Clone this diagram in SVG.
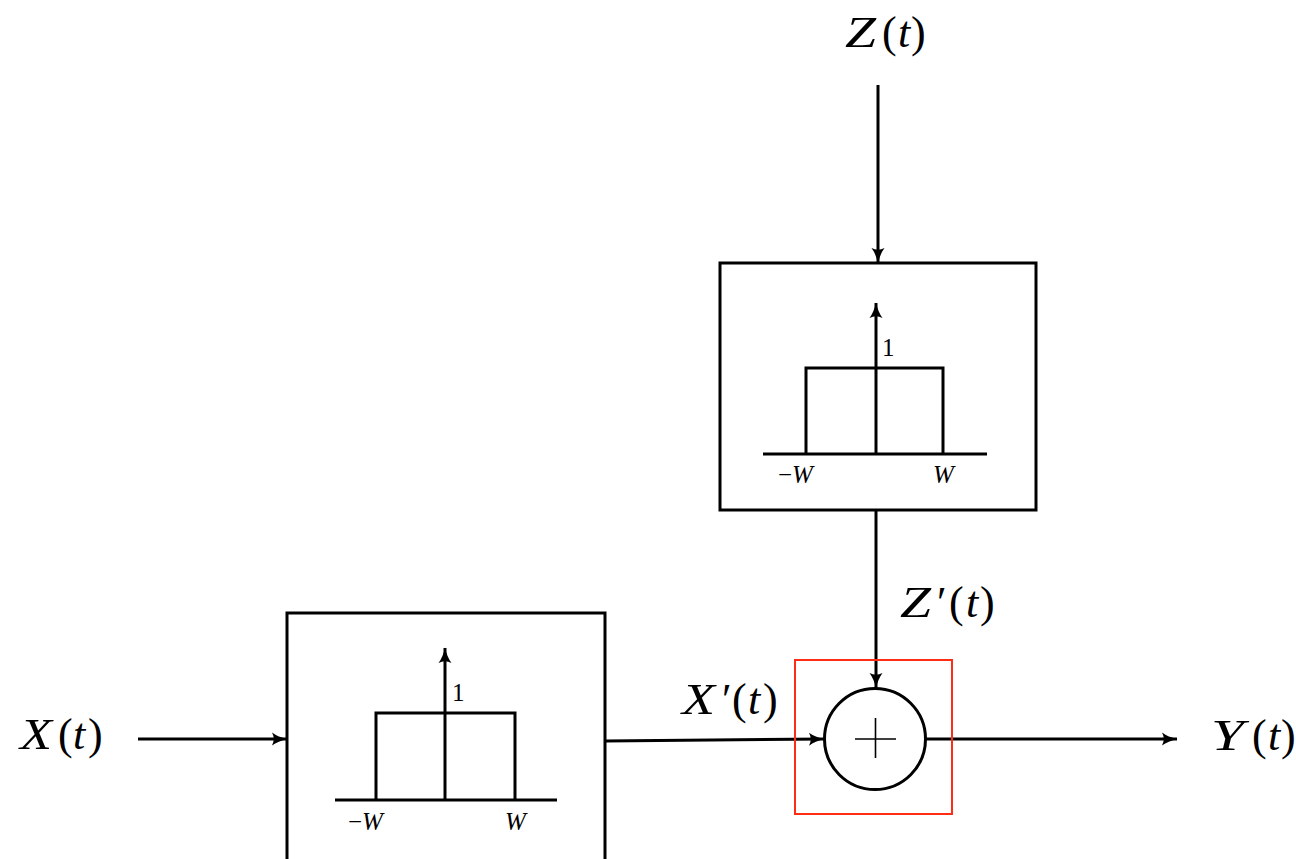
<svg xmlns="http://www.w3.org/2000/svg" width="1296" height="859" viewBox="0 0 1296 859">
<style>
.ln{stroke:#000;stroke-width:3;fill:none}
.box{stroke:#000;stroke-width:3;fill:#fff}
.big{font-family:"Liberation Serif","Times New Roman",serif;font-size:44px;fill:#000}
.sm{font-family:"Liberation Serif","Times New Roman",serif;font-size:25px;fill:#000}
.it{font-style:italic}
</style>
<defs>
<marker id="ah" markerUnits="userSpaceOnUse" markerWidth="16" markerHeight="14" viewBox="0 0 16 14" refX="15" refY="7" orient="auto">
<path d="M0,0.5 Q6,5 15.5,7 Q6,9 0,13.5 Q3.5,7 0,0.5Z" fill="#000"/>
</marker>
</defs>
<g id="connectors">
<line class="ln" x1="138" y1="739" x2="287" y2="739" marker-end="url(#ah)"/>
<line class="ln" x1="605" y1="741" x2="824" y2="739" marker-end="url(#ah)"/>
<line class="ln" x1="878" y1="85" x2="878" y2="263" marker-end="url(#ah)"/>
<line class="ln" x1="876" y1="510" x2="876" y2="688" marker-end="url(#ah)"/>
<line class="ln" x1="926" y1="739" x2="1177" y2="739" marker-end="url(#ah)"/>
</g>
<g id="filter-z">
<rect class="box" x="720" y="263" width="316" height="247"/>
<line class="ln" x1="763" y1="454" x2="987" y2="454"/>
<polyline class="ln" points="806,454 806,368 943,368 943,454"/>
<line class="ln" x1="876" y1="454" x2="876" y2="303" marker-end="url(#ah)"/>
<text class="sm" x="882" y="356">1</text>
<text class="sm" x="778" y="483"><tspan>−</tspan><tspan class="it">W</tspan></text>
<text class="sm it" x="933" y="483">W</text>
</g>
<g id="filter-x">
<path class="box" d="M287,861 V613 H605 V861"/>
<line class="ln" x1="335" y1="800" x2="557" y2="800"/>
<polyline class="ln" points="376,800 376,713 515,713 515,800"/>
<line class="ln" x1="445" y1="800" x2="445" y2="648" marker-end="url(#ah)"/>
<text class="sm" x="452" y="701">1</text>
<text class="sm" x="348" y="830"><tspan>−</tspan><tspan class="it">W</tspan></text>
<text class="sm it" x="505" y="830">W</text>
</g>
<g id="sum">
<rect x="795" y="660" width="157" height="154" fill="none" stroke="#ff2d16" stroke-width="2"/>
<circle cx="875" cy="739" r="50.5" class="box"/>
<path d="M855,739 H896 M875.5,718 V758" stroke="#000" stroke-width="1.6" fill="none"/>
</g>
<g id="labels">
<text class="big" y="749"><tspan class="it" x="20" textLength="32" lengthAdjust="spacingAndGlyphs">X</tspan><tspan x="58">(</tspan><tspan class="it" x="73">t</tspan><tspan x="88">)</tspan></text>
<text class="big" y="47"><tspan class="it" x="845" textLength="31" lengthAdjust="spacingAndGlyphs">Z</tspan><tspan x="882">(</tspan><tspan class="it" x="898">t</tspan><tspan x="911">)</tspan></text>
<text class="big" y="750"><tspan class="it" x="1211" textLength="33" lengthAdjust="spacingAndGlyphs">Y</tspan><tspan x="1252">(</tspan><tspan class="it" x="1268">t</tspan><tspan x="1281">)</tspan></text>
<text class="big" y="714"><tspan class="it" x="682" textLength="33" lengthAdjust="spacingAndGlyphs">X</tspan><tspan x="722">′</tspan><tspan x="732">(</tspan><tspan class="it" x="748">t</tspan><tspan x="763">)</tspan></text>
<text class="big" y="617"><tspan class="it" x="900" textLength="31" lengthAdjust="spacingAndGlyphs">Z</tspan><tspan x="937">′</tspan><tspan x="949">(</tspan><tspan class="it" x="966">t</tspan><tspan x="980">)</tspan></text>
</g>
</svg>
